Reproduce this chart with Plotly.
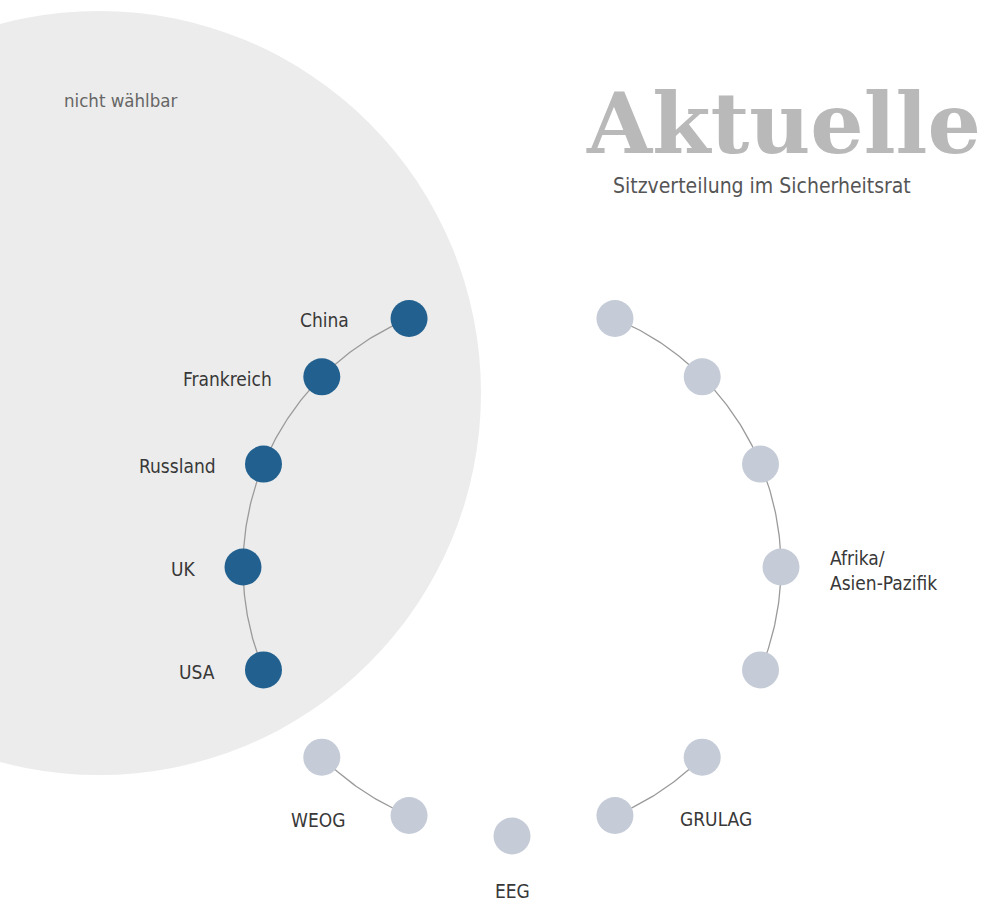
import math
import plotly.graph_objects as go

# ---- data ----
groups = ["P5", "WEOG", "EEG", "GRULAG", "Afrika/<br>Asien-Pazifik"]
group_seats = [5, 2, 1, 2, 5]
p5_members = ["China", "Frankreich", "Russland", "UK", "USA"]
title_text = "Aktuelle"
subtitle_text = "Sitzverteilung im Sicherheitsrat"
zone_label = "nicht wählbar"

# ---- layout constants ----
W, H = 984, 903
CX, CY, R = 512, 567, 269
STEP = 22.5
START = -157.5
DARK = "#22618f"
LIGHT = "#c5ccd7"
LINE = "#9a9a9a"
LABEL_FONT = "DejaVu Sans Condensed, DejaVu Sans, sans-serif"
LABEL_COLOR = "#383838"


def pos(i):
    phi = math.radians(START + STEP * i)
    return CX + R * math.sin(phi), CY + R * math.cos(phi)


fig = go.Figure()

# big "nicht wählbar" circle
fig.add_shape(type="circle", xref="x", yref="y", x0=99 - 382, x1=99 + 382,
              y0=393 - 382, y1=393 + 382, fillcolor="#ececec", line_width=0, layer="below")

# arcs per group
seat = 0
group_ranges = []
for g, n in zip(groups, group_seats):
    group_ranges.append((seat, seat + n - 1))
    if n > 1:
        xs, ys = [], []
        steps = 40 * (n - 1)
        for k in range(steps + 1):
            t = seat + (n - 1) * k / steps
            x, y = pos(t)
            xs.append(x)
            ys.append(y)
        fig.add_trace(go.Scatter(x=xs, y=ys, mode="lines",
                                 line=dict(color=LINE, width=1.3),
                                 hoverinfo="skip", showlegend=False))
    seat += n

total = sum(group_seats)
dx, dy, cols = [], [], []
for i in range(total):
    x, y = pos(i)
    dx.append(x)
    dy.append(y)
    cols.append(DARK if i < group_seats[0] else LIGHT)

fig.add_trace(go.Scatter(x=dx, y=dy, mode="markers",
                         marker=dict(size=37, color=cols, line_width=0),
                         hoverinfo="skip", showlegend=False))

annotations = []
lf = dict(family=LABEL_FONT, size=19, color=LABEL_COLOR)

# P5 labels (to the left of the dots)
p5_offsets = [58, 48, 45, 45, 46]
for i, name in enumerate(p5_members):
    x, y = pos(i)
    annotations.append(dict(x=x - p5_offsets[i], y=y + 2, text=name, showarrow=False,
                            xanchor="right", yanchor="middle", font=lf))

# group labels
s_weog, e_weog = group_ranges[1]
x, y = pos(e_weog)
annotations.append(dict(x=x - 62, y=y + 4, text=groups[1], showarrow=False,
                        xanchor="right", yanchor="middle", font=lf))
s_eeg, _ = group_ranges[2]
x, y = pos(s_eeg)
annotations.append(dict(x=x, y=y + 55, text=groups[2], showarrow=False,
                        xanchor="center", yanchor="middle", font=lf))
s_gr, _ = group_ranges[3]
x, y = pos(s_gr)
annotations.append(dict(x=x + 63, y=y + 3, text=groups[3], showarrow=False,
                        xanchor="left", yanchor="middle", font=lf))
s_af, e_af = group_ranges[4]
x, y = pos(s_af + 1)
annotations.append(dict(x=x + 47, y=y + 3, text=groups[4], showarrow=False,
                        xanchor="left", yanchor="middle", align="left",
                        font=dict(family=LABEL_FONT, size=19, color=LABEL_COLOR)))

# title / subtitle / zone label
annotations.append(dict(x=783, y=123, text="<b>" + title_text + "</b>", showarrow=False,
                        xanchor="center", yanchor="middle",
                        font=dict(family="DejaVu Serif", size=84, color="#b9b9b9")))
annotations.append(dict(x=762, y=186, text=subtitle_text, showarrow=False,
                        xanchor="center", yanchor="middle",
                        font=dict(family=LABEL_FONT, size=21, color="#555555")))
annotations.append(dict(x=62, y=100, text=zone_label, showarrow=False,
                        xanchor="left", yanchor="middle",
                        font=dict(family=LABEL_FONT, size=18.5, color="#666666")))

fig.update_layout(
    width=W, height=H, autosize=False,
    margin=dict(l=0, r=0, t=0, b=0),
    paper_bgcolor="white", plot_bgcolor="white",
    xaxis=dict(range=[0, W], visible=False, fixedrange=True),
    yaxis=dict(range=[H, 0], visible=False, fixedrange=True),
    annotations=annotations,
    showlegend=False,
)

fig.write_html("out.html", config={"displayModeBar": False},
               post_script="document.body.style.margin='0';document.body.style.overflow='hidden';")
